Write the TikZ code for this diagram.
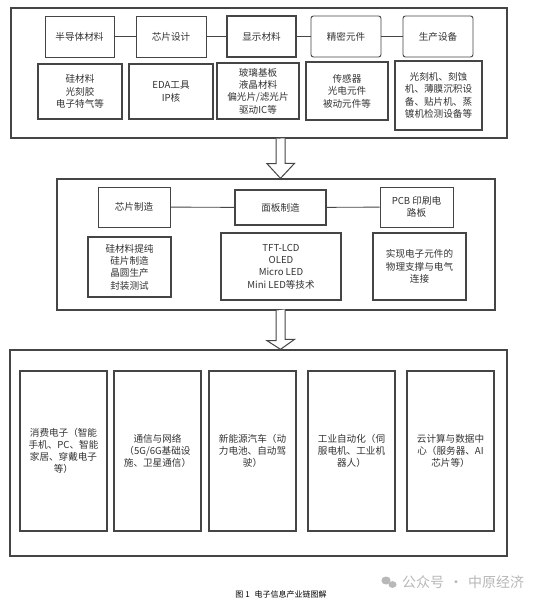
\documentclass[tikz,border=0pt]{standalone}
\usepackage{fontspec}
\setmainfont{Noto Sans CJK SC}
\usetikzlibrary{calc}
\begin{document}
\begin{tikzpicture}[x=1pt,y=-1pt,
  every node/.style={inner sep=0pt, align=center, text=txt},
  outer/.style={draw=ln, line width=1.3pt},
  topbox/.style={draw=ln, line width=0.9pt, font=\fontsize{9.6}{12}\selectfont},
  rtopbox/.style={topbox, rounded corners=2.5pt},
  detbox/.style={draw=ln, line width=1.4pt, font=\fontsize{9.6}{12.4}\selectfont},
  appbox/.style={draw=ln, line width=1.2pt, minimum width=87pt, minimum height=160pt, font=\fontsize{9.6}{11.8}\selectfont},
  link/.style={draw=ln, line width=0.9pt},
  blockarrow/.style={draw=ln, line width=1pt, fill=white, line join=miter}
]
\definecolor{ln}{HTML}{454545}
\definecolor{txt}{HTML}{333333}
\definecolor{wm}{HTML}{B8B8B8}
\useasboundingbox[fill=white] (0,0) rectangle (543,606);

% ---- top block ----
\node[outer, minimum width=496pt, minimum height=130pt] (top) at (259,73) {};
\node[topbox, minimum width=69pt, minimum height=41pt] (a1) at (79.5,36.5) {半导体材料};
\node[topbox, minimum width=70pt, minimum height=41pt] (a2) at (171,36.5) {芯片设计};
\node[topbox, line width=1.2pt, minimum width=69pt, minimum height=41pt] (a3) at (261.5,36.5) {显示材料};
\node[rtopbox, minimum width=70pt, minimum height=41pt] (a4) at (346,36.5) {精密元件};
\node[rtopbox, minimum width=70pt, minimum height=41pt] (a5) at (438,36.5) {生产设备};
\draw[link] (a1) -- (a2);
\draw[link] (a2) -- (a3);
\draw[link] (a3) -- (a4);
\draw[link] (a4) -- (a5);

\node[detbox, minimum width=84pt, minimum height=55pt] (b1) at (80,91.5) {硅材料\\光刻胶\\电子特气等};
\node[detbox, minimum width=84pt, minimum height=55pt] (b2) at (171,91.5) {EDA工具\\IP核};
\node[detbox, minimum width=82pt, minimum height=56pt] (b3) at (258,91) {玻璃基板\\液晶材料\\偏光片/滤光片\\驱动IC等};
\node[detbox, minimum width=82pt, minimum height=58pt] (b4) at (347,91) {传感器\\光电元件\\被动元件等};
\node[detbox, minimum width=87pt, minimum height=69pt] (b5) at (438.5,95.5) {光刻机、刻蚀\\机、薄膜沉积设\\备、贴片机、蒸\\镀机检测设备等};

% ---- middle block ----
\node[outer, minimum width=438pt, minimum height=131pt] (mid) at (276,244.5) {};
\node[topbox, minimum width=72pt, minimum height=40pt] (m1) at (134,207) {芯片制造};
\node[topbox, line width=1.2pt, minimum width=91pt, minimum height=35pt] (m2) at (280.5,207.5) {面板制造};
\node[topbox, minimum width=73pt, minimum height=40pt] (m3) at (416.5,207) {PCB 印刷电\\路板};
\draw[link] (m1) -- (m2);
\draw[link] (m2) -- (m3);

\node[detbox, minimum width=83pt, minimum height=60pt] (n1) at (129.5,267) {硅材料提纯\\硅片制造\\晶圆生产\\封装测试};
\node[detbox, minimum width=120pt, minimum height=67pt] (n2) at (281,266.5) {TFT-LCD\\OLED\\Micro LED\\Mini LED等技术};
\node[detbox, minimum width=93pt, minimum height=67pt] (n3) at (419.5,266.5) {实现电子元件的\\物理支撑与电气\\连接};

% ---- bottom block ----
\node[outer, minimum width=497pt, minimum height=206pt] (bot) at (258.5,453) {};
\node[appbox] (c1) at (63.5,451) {消费电子（智能\\手机、PC、智能\\家居、穿戴电子\\等）};
\node[appbox] (c2) at (157.5,451) {通信与网络\\（5G/6G基础设\\施、卫星通信）};
\node[appbox] (c3) at (252.5,451) {新能源汽车（动\\力电池、自动驾\\驶）};
\node[appbox] (c4) at (351.5,451) {工业自动化（伺\\服电机、工业机\\器人）};
\node[appbox] (c5) at (450.5,451) {云计算与数据中\\心（服务器、AI\\芯片等）};

% ---- block arrows ----
\coordinate (ax) at (280.5,0);
\coordinate (ar1) at (ax |- top.south);
\coordinate (ar2) at (ax |- mid.south);
\coordinate (tip1) at (ax |- mid.north);
\coordinate (tip2) at (ax |- bot.north);
\draw[blockarrow] ($(ar1)+(-4.5,0)$) -- ++(0,25) -- ++(-9,0) -- (tip1) -- ++(14,-15) -- ++(-9.5,0) -- ++(0,-25);
\draw[blockarrow] ($(ar2)+(-4.5,0)$) -- ++(0,30) -- ++(-9,0) -- (tip2) -- ++(14,-10) -- ++(-9.5,0) -- ++(0,-30);

% ---- caption & watermark ----
\node[font=\fontsize{8}{9}\selectfont, text=black] (cap) at (281,594) {图 1\hspace{0.6em}电子信息产业链图解};
\fill[wm] (386,580.5) ellipse (4.6pt and 4pt);
\fill[wm] (392.5,584.5) ellipse (4pt and 3.4pt);
\node[font=\fontsize{14}{16}\selectfont, text=wm, anchor=west] (wmk) at (402,582) {公众号\hspace{0.35em}·\hspace{0.35em}中原经济};
\end{tikzpicture}
\end{document}
